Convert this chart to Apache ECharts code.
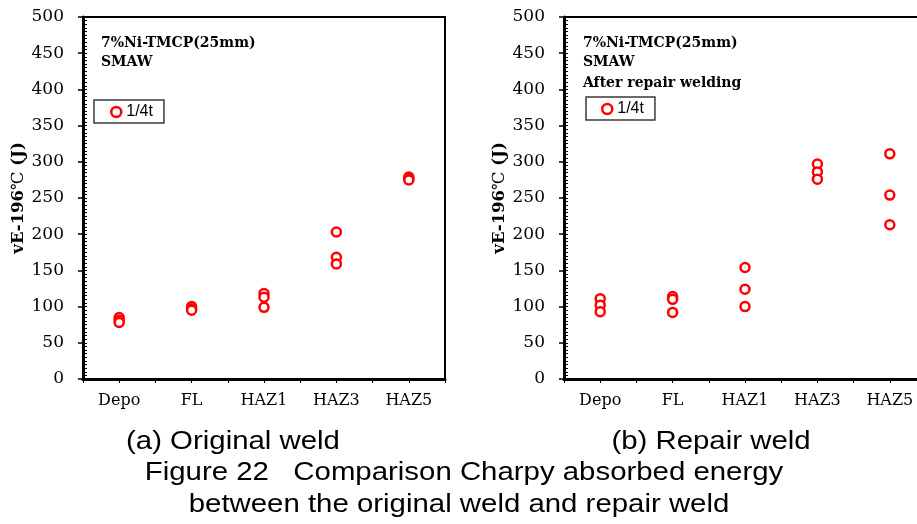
<!DOCTYPE html>
<html><head><meta charset="utf-8">
<script src="https://cdn.jsdelivr.net/npm/echarts@6/dist/echarts.min.js"></script>
<style>html,body{margin:0;padding:0;background:#fff}#c{width:917px;height:524px}</style>
</head><body><div id="c"></div>
<script>
// ---- data ----
const categories = ['Depo', 'FL', 'HAZ1', 'HAZ3', 'HAZ5'];
const yMin = 0, yMax = 500, yInterval = 50;
const originalWeld = [[85, 81, 78], [100, 97, 95], [118, 113, 99], [203, 168, 159], [279, 277, 275]];
const repairWeld = [[111, 102, 93], [114, 110, 92], [154, 124, 100], [297, 286, 276], [311, 254, 213]];
const seriesName = '1/4t';
const notesA = ['7%Ni-TMCP(25mm)', 'SMAW'];
const notesB = ['7%Ni-TMCP(25mm)', 'SMAW', 'After repair welding'];
const captionA = '(a) Original weld';
const captionB = '(b) Repair weld';
const figTitle1 = 'Figure 22   Comparison Charpy absorbed energy';
const figTitle2 = 'between the original weld and repair weld';

function toPoints(groups) {
  const out = [];
  groups.forEach((vals, i) => vals.forEach(v => out.push([categories[i], v])));
  return out;
}

const SERIF = '"DejaVu Serif", "Liberation Serif", serif';
const SANS = '"Liberation Sans", Arial, sans-serif';
const RED = '#ff0000';

function mainX(g) {
  return {
    type: 'category', gridIndex: g, data: categories, position: 'bottom',
    boundaryGap: true,
    axisLine: { onZero: false, lineStyle: { color: '#000', width: 3 } },
    axisTick: { show: true, length: 4, lineStyle: { color: '#000', width: 1 } },
    axisLabel: { color: '#000', fontFamily: SERIF, fontSize: 16, margin: 14, interval: 0 },
    splitLine: { show: false }
  };
}
function centerX(g) {
  return {
    type: 'category', gridIndex: g, data: categories, position: 'bottom',
    axisLine: { show: false, onZero: false },
    axisTick: { show: true, alignWithLabel: true, length: 4, lineStyle: { color: '#000', width: 1 } },
    axisLabel: { show: false }, splitLine: { show: false }
  };
}
function mainY(g) {
  return {
    type: 'value', gridIndex: g, min: yMin, max: yMax, interval: yInterval, position: 'left',
    name: '{b|vE-196}{c|℃}{b| (J)}',
    nameLocation: 'middle', nameRotate: 90, nameGap: 54,
    nameTextStyle: {
      rich: {
        b: { fontFamily: SERIF, fontWeight: 'bold', fontSize: 16.5, color: '#000' },
        c: { fontFamily: SERIF, fontWeight: 'normal', fontSize: 16.5, color: '#000' }
      }
    },
    axisLine: { show: true, lineStyle: { color: '#000', width: 3 } },
    axisTick: { show: true, length: 5, lineStyle: { color: '#000', width: 1.5 } },
    axisLabel: { color: '#000', fontFamily: SERIF, fontSize: 17, margin: 19 },
    splitLine: { show: false }
  };
}
function minorY(g) {
  return {
    type: 'value', gridIndex: g, min: yMin, max: yMax, interval: yInterval, position: 'left',
    axisLine: { show: false },
    axisTick: { show: true, inside: true, length: 4, lineStyle: { color: '#000', width: 1 } },
    minorTick: { show: true, splitNumber: 10, length: 4, lineStyle: { color: '#000', width: 1 } },
    axisLabel: { show: false }, splitLine: { show: false }, minorSplitLine: { show: false }
  };
}
function legend(left, top, padLeft) {
  return {
    show: true, left: left, top: top, orient: 'horizontal',
    data: [seriesName], selectedMode: false,
    padding: [4, 11, 3, padLeft],
    borderColor: '#3a3a3a', borderWidth: 1.5, backgroundColor: '#fff',
    itemWidth: 10, itemHeight: 10, icon: 'circle',
    itemStyle: { color: '#fff', borderColor: RED, borderWidth: 2.5 },
    textStyle: { fontFamily: SANS, fontSize: 16, color: '#000' }
  };
}
function scatter(xi, yi, groups) {
  return {
    type: 'scatter', name: seriesName, xAxisIndex: xi, yAxisIndex: yi,
    data: toPoints(groups), symbol: 'circle', symbolSize: 9,
    itemStyle: { color: '#fff', borderColor: RED, borderWidth: 2.5, opacity: 1 },
    emphasis: { disabled: true }, z: 5
  };
}
function note(x, y, text) {
  return { type: 'text', left: x, top: y, z: 10,
    style: { text: text, fontFamily: SERIF, fontWeight: 'bold', fontSize: 14, fill: '#000' } };
}
function caption(cx, cy, text) {
  return { type: 'text', x: cx, y: cy, scaleX: 1.13, z: 10,
    style: { text: text, fontFamily: SANS, fontSize: 26, fill: '#000', align: 'center', verticalAlign: 'middle' } };
}

const chart = echarts.init(document.getElementById('c'), null, { renderer: 'canvas' });
chart.setOption({
  backgroundColor: '#fff',
  animation: false,
  grid: [
    { left: 83, top: 17, width: 362, height: 362, show: true, borderColor: '#000', borderWidth: 2, containLabel: false, outerBoundsMode: 'none' },
    { left: 564, top: 17, width: 362, height: 362, show: true, borderColor: '#000', borderWidth: 2, containLabel: false, outerBoundsMode: 'none' }
  ],
  xAxis: [mainX(0), centerX(0), mainX(1), centerX(1)],
  yAxis: [mainY(0), minorY(0), mainY(1), minorY(1)],
  legend: [legend(94, 100, 16), legend(586, 97, 15)],
  series: [scatter(0, 0, originalWeld), scatter(2, 2, repairWeld)],
  graphic: [
    note(101, 36, notesA[0]), note(101, 55, notesA[1]),
    note(583, 36, notesB[0]), note(583, 55, notesB[1]), note(583, 76, notesB[2]),
    caption(233, 442, captionA), caption(711, 442, captionB),
    caption(464, 473, figTitle1), caption(459, 505, figTitle2)
  ]
});
</script>
</body></html>
